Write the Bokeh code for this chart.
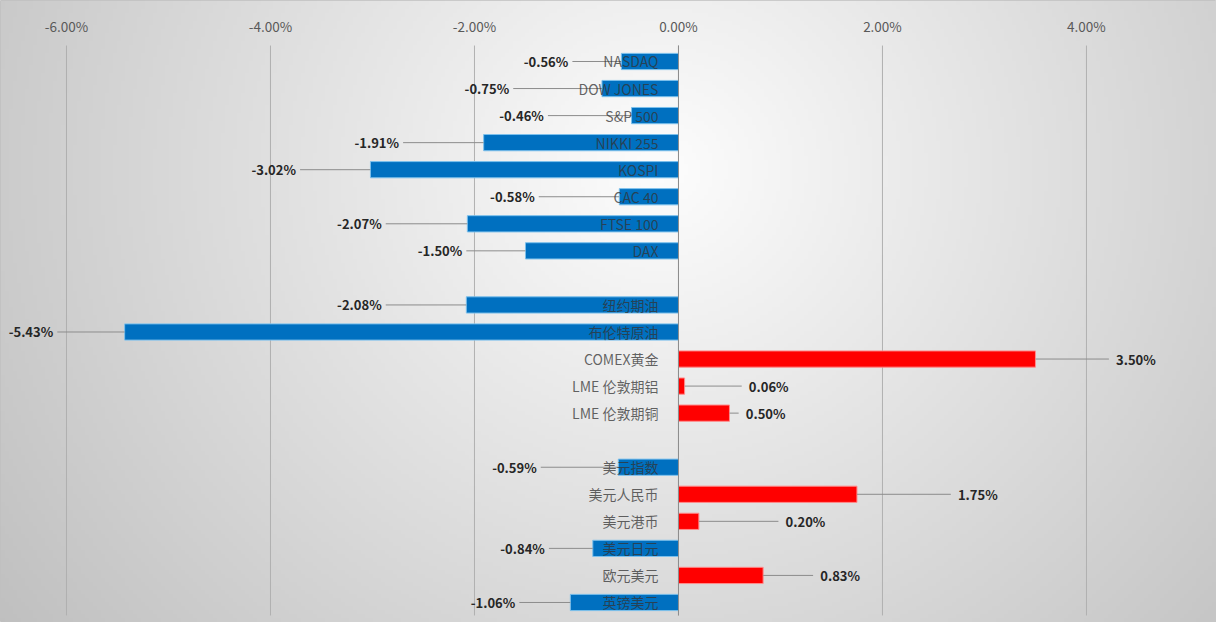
import numpy as np
from bokeh.plotting import figure
from bokeh.models import Range1d, LinearAxis, FixedTicker, PrintfTickFormatter, ColumnDataSource
from bokeh.core.properties import value
from bokeh.embed import file_html
from bokeh.resources import INLINE

# ---------------- data ----------------
categories = ["NASDAQ", "DOW JONES", "S&P 500", "NIKKI 255", "KOSPI", "CAC 40", "FTSE 100", "DAX", "",
              "纽约期油", "布伦特原油", "COMEX黄金", "LME 伦敦期铝", "LME 伦敦期铜", "",
              "美元指数", "美元人民币", "美元港币", "美元日元", "欧元美元", "英镑美元"]
changes = [-0.56, -0.75, -0.46, -1.91, -3.02, -0.58, -2.07, -1.50, None,
           -2.08, -5.43, 3.50, 0.06, 0.50, None,
           -0.59, 1.75, 0.20, -0.84, 0.83, -1.06]
# where each data label sits (in % units, as placed in the original)
label_at = [-1.08, -1.66, -1.32, -2.74, -3.75, -1.41, -2.91, -2.12, None,
            -2.91, -6.13, 4.29, 0.69, 0.66, None,
            -1.39, 2.74, 1.05, -1.31, 1.39, -1.60]
x_ticks = [-6, -4, -2, 0, 2, 4]

# ---------------- layout constants ----------------
W, H = 1216, 622
X0, X1 = -6.647, 5.275
Y0, Y1 = -20.74, 2.255
GRID_TOP, GRID_BOT = 0.59, -20.48
FONT = value("Noto Sans CJK SC")

p = figure(width=W, height=H, output_backend="svg", toolbar_location=None,
           x_range=Range1d(X0, X1), y_range=Range1d(Y0, Y1),
           x_axis_location=None, y_axis_location=None, min_border=0)
p.xgrid.visible = False
p.ygrid.visible = False
p.outline_line_color = "#c0c0c0"
p.background_fill_color = "#e6e6e6"
p.border_fill_color = "#e6e6e6"

# ---------------- radial gray background ----------------
gw, gh = 304, 156
cols = (np.arange(gw) + 0.5) / gw * W
rows = H - (np.arange(gh) + 0.5) / gh * H
sx, sy = np.meshgrid(cols, rows)
r = np.sqrt(((sx - 660) / 640.0) ** 2 + ((sy - 170) / 600.0) ** 2)
bright = np.clip(253 - 48 * r, 180, 255).astype(np.uint8)
img = np.empty((gh, gw), dtype=np.uint32)
view = img.view(dtype=np.uint8).reshape((gh, gw, 4))
view[:, :, 0] = bright
view[:, :, 1] = bright
view[:, :, 2] = bright
view[:, :, 3] = 255
p.image_rgba(image=[img], x=X0, y=Y0, dw=X1 - X0, dh=Y1 - Y0)

# ---------------- gridlines ----------------
p.segment(x0=x_ticks, y0=[GRID_BOT] * len(x_ticks), x1=x_ticks, y1=[GRID_TOP] * len(x_ticks),
          line_color="#b0b0b0", line_width=1)

# ---------------- bars ----------------
ys, vals, names, labs = [], [], [], []
for i, (c, v, la) in enumerate(zip(categories, changes, label_at)):
    if v is None:
        continue
    ys.append(-i)
    vals.append(v)
    names.append(c)
    labs.append(la)

fill = ["#0070C0" if v < 0 else "#FF0000" for v in vals]
edge = ["#7cc0ec" if v < 0 else "#ff8c8c" for v in vals]
src = ColumnDataSource(dict(y=ys, right=vals, fill=fill, edge=edge))
p.hbar(y="y", left=0, right="right", height=0.6, fill_color="fill", line_color="edge",
       line_width=1, source=src)

# ---------------- leader lines ----------------
seg_x0, seg_x1 = [], []
for v, la in zip(vals, labs):
    if v < 0:
        seg_x0.append(la + 0.04)
    else:
        seg_x0.append(la - 0.07)
    seg_x1.append(v)
p.segment(x0=seg_x0, y0=ys, x1=seg_x1, y1=ys, line_color="#8c8c8c", line_width=1)

# ---------------- zero line ----------------
p.segment(x0=[0], y0=[GRID_BOT], x1=[0], y1=[GRID_TOP], line_color="#8c8c8c", line_width=1)

# ---------------- data labels ----------------
neg = [k for k, v in enumerate(vals) if v < 0]
pos = [k for k, v in enumerate(vals) if v >= 0]
for idx, align in ((neg, "right"), (pos, "left")):
    p.text(x=[labs[k] for k in idx], y=[ys[k] for k in idx],
           text=["%.2f%%" % vals[k] for k in idx],
           text_align=align, text_baseline="middle", text_font=FONT,
           text_font_style="bold", text_font_size="13px", text_color="#262626")

# ---------------- axes ----------------
xaxis = LinearAxis(ticker=FixedTicker(ticks=x_ticks),
                   formatter=PrintfTickFormatter(format="%.2f%%"))
xaxis.fixed_location = GRID_TOP
xaxis.axis_line_color = None
xaxis.major_tick_line_color = None
xaxis.minor_tick_line_color = None
xaxis.major_label_standoff = 4
xaxis.major_label_text_font = "Noto Sans CJK SC"
xaxis.major_label_text_font_size = "13.5px"
xaxis.major_label_text_color = "#595959"
p.add_layout(xaxis, "above")

yaxis = LinearAxis(ticker=FixedTicker(ticks=ys))
yaxis.major_label_overrides = {int(y): n for y, n in zip(ys, names)}
yaxis.fixed_location = 0
yaxis.axis_line_color = None
yaxis.major_tick_line_color = None
yaxis.minor_tick_line_color = None
yaxis.major_label_standoff = 14
yaxis.major_label_text_font = "Noto Sans CJK SC"
yaxis.major_label_text_font_size = "14px"
yaxis.major_label_text_color = "#333333"
yaxis.major_label_text_alpha = 0.75
p.add_layout(yaxis, "left")

open("out.html", "w").write(file_html(p, INLINE))
